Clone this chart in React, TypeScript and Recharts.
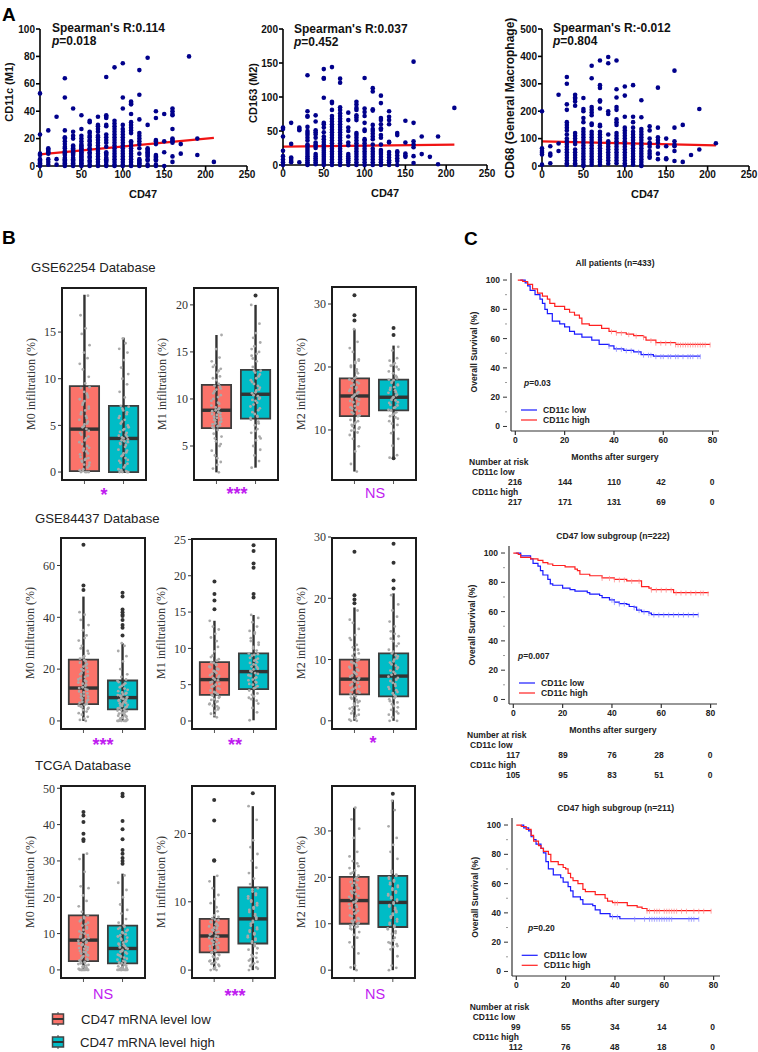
import React from 'react';
import { ComposedChart, Line, ReferenceArea, ReferenceLine, Scatter, XAxis, YAxis } from 'recharts';

// ---- Panel A: CD47 value -> marker values
const cd47Levels = [0, 10, 20, 30, 40, 50, 60, 70, 80, 90, 100, 110, 120, 130, 140, 150, 160, 170, 180, 190, 210];

const cd11cValues = [
  [53, 23, 9, 8, 5, 4, 3, 2, 1, 0],
  [26, 13, 12, 11, 10, 9, 5, 3, 1],
  [36, 5, 1],
  [64, 50, 26, 21, 20, 18, 16, 14, 13, 11, 10, 9, 8, 6, 5, 4, 3, 2, 1, 0],
  [42, 25, 22, 20, 15, 14, 13, 12, 11, 10, 9, 8, 6, 5, 4, 3, 2, 1, 0],
  [37, 27, 22, 20, 18, 16, 15, 14, 13, 12, 11, 10, 9, 8, 7, 6, 5, 4, 3, 2, 1, 0],
  [33, 32, 25, 24, 22, 21, 19, 18, 16, 15, 13, 12, 10, 9, 7, 6, 4, 3, 1, 0],
  [36, 30, 29, 27, 25, 22, 21, 19, 17, 15, 13, 11, 9, 7, 5, 3, 1, 0],
  [65, 37, 36, 35, 30, 29, 23, 21, 19, 17, 14, 10, 9, 8, 6, 5, 4, 3, 1, 0],
  [72, 33, 31, 29, 27, 25, 23, 21, 19, 17, 15, 13, 11, 9, 7, 5, 3, 1, 0],
  [75, 50, 42, 30, 27, 25, 23, 21, 19, 17, 15, 13, 11, 9, 7, 5, 3, 1, 0],
  [47, 46, 45, 38, 32, 30, 28, 26, 24, 18, 17, 15, 13, 11, 9, 7, 5, 3, 1, 0],
  [70, 52, 34, 24, 22, 20, 18, 16, 13, 9, 5, 4, 3, 2, 1, 0],
  [79, 30, 13, 12, 11, 10, 9, 8, 7, 5, 4, 1, 0],
  [40, 35, 19, 18, 16, 8, 7, 6, 5, 4, 1, 0],
  [38, 18, 10, 0],
  [42, 40, 38, 37, 27, 20, 19, 18, 17, 7, 3],
  [16, 9],
  [80],
  [20, 8],
  [3],
];

const cd163Values = [
  [55, 53, 42, 21, 13, 8, 4, 0],
  [62, 31, 11, 9, 6, 4],
  [55, 53, 51, 4],
  [132, 79, 72, 71, 56, 50, 47, 44, 40, 36, 30, 28, 25, 22, 19, 16, 13, 10, 7, 4, 1, 0],
  [73, 64, 51, 48, 45, 40, 33, 30, 28, 25, 16, 13, 10, 7, 4, 1],
  [141, 128, 127, 99, 62, 60, 55, 48, 42, 38, 34, 30, 27, 24, 21, 18, 15, 12, 9, 6, 3, 0],
  [144, 93, 91, 81, 72, 68, 64, 60, 56, 52, 48, 44, 40, 36, 32, 28, 24, 20, 16, 12, 8, 4, 0],
  [127, 121, 85, 81, 76, 72, 68, 64, 60, 56, 52, 48, 44, 40, 36, 32, 28, 24, 20, 16, 12, 8, 4, 0],
  [77, 66, 55, 50, 42, 33, 29, 16, 13, 10, 7, 4, 0],
  [93, 89, 84, 81, 73, 70, 66, 47, 44, 40, 36, 32, 28, 24, 20, 16, 12, 8, 4, 0],
  [128, 83, 78, 72, 62, 52, 50, 38, 36, 32, 28, 24, 20, 16, 12, 8, 4, 0],
  [113, 108, 82, 80, 59, 53, 50, 46, 42, 38, 30, 24, 20, 16, 12, 8, 4, 0],
  [102, 91, 69, 66, 60, 54, 52, 44, 40, 30, 22, 19, 16, 12, 8, 4, 0],
  [79, 71, 66, 60, 34, 33, 19, 15, 11, 7, 4, 0],
  [47, 44, 20, 18, 14, 10, 6, 0],
  [65, 33, 17, 14, 12],
  [152, 62, 35, 30, 26, 13, 3],
  [42, 16],
  [12],
  [42, 1],
  [84],
];

const cd68Values = [
  [200, 65, 55, 48, 42, 5],
  [72, 45, 38, 10],
  [260, 82, 55],
  [325, 300, 225, 205, 160, 150, 140, 130, 115, 100, 90, 80, 70, 60, 50, 40, 30, 20, 10, 5],
  [260, 250, 245, 235, 220, 120, 110, 100, 90, 80, 60, 50, 40, 30, 20, 10, 5],
  [248, 208, 200, 175, 160, 135, 125, 115, 105, 95, 85, 75, 65, 55, 45, 35, 25, 15, 5, 0],
  [366, 320, 215, 205, 195, 185, 155, 150, 125, 115, 105, 95, 85, 75, 65, 55, 45, 35, 25, 15, 5],
  [385, 295, 285, 240, 235, 210, 150, 145, 125, 115, 105, 95, 85, 75, 65, 55, 45, 35, 25, 15, 5],
  [398, 375, 200, 190, 115, 90, 80, 70, 60, 50, 40, 30, 20, 8],
  [385, 280, 250, 215, 205, 170, 160, 150, 120, 110, 100, 90, 80, 70, 60, 50, 40, 30, 20, 10],
  [290, 257, 180, 140, 130, 120, 110, 100, 90, 80, 70, 60, 50, 40, 30, 20, 10, 3],
  [295, 180, 160, 140, 125, 115, 105, 95, 85, 75, 65, 55, 45, 35, 25, 15, 5],
  [240, 178, 135, 125, 115, 105, 95, 85, 75, 65, 55, 45, 35, 25, 15, 5, 0],
  [145, 130, 100, 85, 80, 70, 55, 45, 35, 30],
  [286, 140, 105, 95, 85, 70, 45, 25],
  [100, 72, 28, 25],
  [348, 140, 90, 78, 72, 55, 18],
  [150, 15],
  [40],
  [208, 60],
  [83],
];

const cd11cFit = [{ x: 0, y: 8.5 }, { x: 210, y: 20.5 }];
const cd163Fit = [{ x: 0, y: 27 }, { x: 210, y: 30 }];
const cd68Fit = [{ x: 0, y: 90 }, { x: 210, y: 75 }];

// ---- Panel B: [low whisker, q1, median, q3, high whisker], outliers, jittered samples
const m0Gse62Stats = [[0, 0.1, 4.6, 9.2, 19], [0, 0, 3.6, 7.1, 14.4]];
const m1Gse62Stats = [[2.2, 6.9, 8.8, 11.5, 16.8], [2.7, 7.9, 10.5, 13.1, 20]];
const m2Gse62Stats = [[3.4, 12.2, 15.4, 18.2, 26], [5.6, 13.1, 15.2, 18, 23.4]];
const m0Gse84Stats = [[0, 6.5, 12.7, 23.7, 48], [0, 4.5, 9, 15.6, 30]];
const m1Gse84Stats = [[0.5, 3.6, 5.7, 8.1, 13.8], [0.1, 4.4, 6.8, 9.3, 14.6]];
const m2Gse84Stats = [[0, 4.3, 6.8, 10, 18.5], [0, 4, 7.3, 11, 20.8]];
const m0TcgaStats = [[0, 2.4, 8.2, 15, 32], [0, 1.8, 5.9, 12.2, 26.5]];
const m1TcgaStats = [[0, 2.6, 5, 7.5, 13.8], [0, 3.9, 7.5, 12.1, 24]];
const m2TcgaStats = [[0, 10, 15, 20.1, 35], [0, 9.3, 14.6, 20.3, 36.7]];

const m0Gse62Out = [[], []];
const m1Gse62Out = [[], [21]];
const m2Gse62Out = [[27.4, 28.2, 31.4], [5.5, 25.1, 26.2]];
const m0Gse84Out = [[50.5, 52.3, 68], [33, 36, 37, 39, 40.5, 41, 42, 43, 48, 49.5]];
const m1Gse84Out = [[15.4, 16.6, 17.5, 19.2], [17, 17.5, 21.1, 21.7, 23.4, 24.2]];
const m2Gse84Out = [[19.2, 19.8, 20.5, 27.6], [21.6, 22.9, 25.8, 28.9]];
const m0TcgaOut = [[35.5, 36, 37.5, 40.7, 42.5, 43.5], [29.2, 30, 30.8, 32, 33, 36, 38.7, 41, 47.8, 48.5]];
const m1TcgaOut = [[16, 16.1, 21.9, 24.9], [25.9]];
const m2TcgaOut = [[], [38]];

const m0Gse62Low = [0, 0, 0, 0, 0.1, 0.2, 0.5, 0.8, 1, 1.2, 1.4, 1.6, 2, 2.3, 2.6, 3, 3.4, 3.8, 4.2, 4.6, 4.9, 5.2, 5.6, 6, 6.4, 6.8, 7.2, 7.6, 8, 8.4, 9, 9.5, 10.2, 11, 11.6, 12.2, 12.8, 13.6, 14.8, 15.4, 16.8, 18.9, 0.3, 0.7, 1.1, 1.3, 1.5, 1.9, 2.2, 2.5, 2.8, 3.2, 3.6, 4, 4.4, 4.8, 5.1, 5.4, 5.8, 6.2, 6.6, 7, 7.4, 7.8, 8.2, 8.6, 9.1];
const m0Gse62High = [0, 0, 0, 0, 0.2, 0.5, 0.9, 1.2, 1.5, 1.8, 2.1, 2.4, 2.7, 3, 3.2, 3.4, 3.6, 3.8, 4, 4.3, 4.6, 5, 5.4, 5.8, 6.2, 6.6, 7, 7.1, 8, 8.6, 9.4, 10, 10.5, 11.2, 12, 12.8, 13.2, 13.8, 14.3, 0.1, 0.3, 0.7, 1, 1.3, 1.7, 2, 2.3, 2.9, 3.1, 3.3, 3.5, 3.7, 3.9, 4.2, 4.5, 4.8, 5.2, 5.6, 6, 6.4, 6.8];
const m1Gse62Low = [2.2, 2.6, 3, 3.3, 4, 4.5, 5, 5.5, 6, 6.3, 6.7, 7, 7.2, 7.4, 7.6, 7.8, 8, 8.2, 8.4, 8.6, 8.8, 9, 9.3, 9.6, 10, 10.4, 10.8, 11, 11.3, 11.6, 12.2, 12.8, 13.2, 13.6, 14, 14.4, 15.3, 16.8, 6.9, 7.1, 7.3, 7.5, 7.7, 7.9, 8.1, 8.3, 8.5, 8.7, 8.9, 9.1, 9.5, 9.8, 10.2, 10.6, 11.1, 11.4, 12, 12.4, 13, 13.4, 3.7, 5.2, 5.8];
const m1Gse62High = [2.7, 3.4, 4, 4.6, 5, 5.6, 6, 6.4, 6.8, 7.2, 7.6, 8, 8.2, 8.6, 9, 9.4, 9.8, 10, 10.3, 10.6, 10.9, 11.2, 11.6, 12, 12.4, 12.8, 13, 13.4, 14, 14.6, 15, 15.6, 16, 16.5, 17, 18, 20, 8.1, 8.4, 8.8, 9.2, 9.6, 9.9, 10.1, 10.4, 10.7, 11, 11.4, 11.8, 12.2, 12.6, 13, 7.8, 7.4, 6.6, 5.8, 14.3, 14.8, 15.3];
const m2Gse62Low = [3.4, 4.6, 6.6, 7.4, 8.6, 9.2, 9.6, 10, 10.4, 10.8, 11.2, 11.6, 12.2, 12.6, 13, 13.4, 13.8, 14.2, 14.6, 15, 15.4, 15.8, 16.2, 16.6, 17, 17.4, 17.8, 18.2, 19, 19.6, 20.2, 20.8, 21.2, 22.4, 23, 24, 26, 12.3, 12.8, 13.2, 13.6, 14, 14.4, 14.8, 15.2, 15.6, 16, 16.4, 16.8, 17.2, 17.6, 18, 18.4, 9.9, 10.2, 10.6, 11, 11.4, 19.3, 20, 20.6, 21];
const m2Gse62High = [5.6, 6, 7.5, 8.6, 9.5, 10, 10.8, 11.4, 12, 12.4, 12.8, 13.2, 13.6, 14, 14.4, 14.8, 15.2, 15.6, 16, 16.4, 16.8, 17.2, 17.6, 18, 18.4, 19, 19.6, 20.2, 20.6, 21, 21.4, 22.6, 23.2, 13.1, 13.5, 13.9, 14.3, 14.7, 15.1, 15.5, 15.9, 16.3, 16.7, 17.1, 17.5, 17.9, 18.2, 18.6, 12.2, 12.6, 11.8, 11, 19.3, 20, 20.4];
const m0Gse84Low = [0, 0.4, 1, 1.6, 2.4, 3, 3.6, 4.2, 5, 5.6, 6.2, 7, 7.8, 8.6, 9.4, 10.2, 11, 12, 12.7, 13.6, 14.4, 15.2, 16, 17, 18, 19, 20, 21, 22, 23, 24, 25, 27, 29, 31, 33, 35, 37, 39, 41, 42, 6.5, 7.4, 8.2, 9, 9.8, 10.6, 11.4, 12.4, 13, 14, 14.8, 15.6, 16.5, 17.5, 18.5, 19.5, 20.5, 21.5, 22.5, 23.5, 4.6, 5.3, 5.9, 6.8, 24.5, 26, 28, 32];
const m0Gse84High = [0, 0, 0, 0.4, 0.8, 1.2, 1.6, 2, 2.5, 3, 3.5, 4, 4.5, 5, 5.5, 6, 6.5, 7, 7.5, 8, 8.5, 9, 9.5, 10, 10.5, 11, 12, 13, 14, 15, 16, 17, 18, 20, 23, 25, 27, 29, 30, 0, 0, 0, 0.2, 0.6, 1, 1.4, 1.8, 2.2, 2.8, 3.2, 3.8, 4.2, 4.8, 5.2, 5.8, 6.2, 6.8, 7.2, 7.8, 8.2, 8.8, 9.2, 9.8, 10.2, 10.8, 11.5, 12.5, 13.5, 14.5, 15.5];
const m1Gse84Low = [0.5, 1, 1.4, 1.8, 2.1, 2.4, 2.7, 3, 3.3, 3.6, 3.9, 4.2, 4.5, 4.8, 5.1, 5.4, 5.7, 6, 6.3, 6.6, 6.9, 7.2, 7.5, 7.8, 8.1, 8.5, 9, 9.6, 10.2, 11, 11.5, 12, 12.6, 13, 13.8, 3.7, 4, 4.4, 4.7, 5, 5.3, 5.6, 5.9, 6.2, 6.5, 6.8, 7.1, 7.4, 7.7, 8, 2, 2.3, 2.6, 2.9, 3.2, 3.5, 0.8, 1.6, 8.3, 8.8];
const m1Gse84High = [0.1, 1.2, 1.8, 2.4, 3, 3.4, 3.8, 4.2, 4.6, 5, 5.3, 5.6, 5.9, 6.2, 6.5, 6.8, 7.1, 7.4, 7.7, 8, 8.3, 8.6, 9, 9.3, 9.7, 10.2, 10.8, 11.4, 12, 12.4, 13, 13.6, 14.2, 14.6, 4.5, 4.8, 5.1, 5.4, 5.7, 6, 6.3, 6.6, 6.9, 7.2, 7.5, 7.8, 8.1, 8.4, 8.7, 9.1, 9.2, 3.6, 3.2, 2.8, 10, 10.5, 11, 12.2];
const m2Gse84Low = [0, 0, 0.4, 1, 1.6, 2, 2.4, 2.8, 3.2, 3.6, 4, 4.4, 4.8, 5.2, 5.6, 6, 6.4, 6.8, 7.2, 7.6, 8, 8.4, 8.8, 9.2, 9.6, 10, 10.6, 11.2, 11.6, 12.4, 13.2, 14, 15, 16, 16.5, 18, 4.2, 4.6, 5, 5.4, 5.8, 6.2, 6.6, 7, 7.4, 7.8, 8.2, 8.6, 9, 9.4, 9.8, 0.2, 0.8, 1.2, 1.8, 2.2, 2.6, 3, 3.4, 3.8, 10.3, 11, 12, 13.5];
const m2Gse84High = [0, 0, 0.6, 1.2, 1.8, 2.4, 3, 3.5, 4, 4.5, 5, 5.5, 6, 6.5, 7, 7.5, 8, 8.5, 9, 9.5, 10, 10.5, 11, 11.6, 12.2, 13, 13.8, 14.6, 15.4, 16.2, 17, 18, 19, 20.5, 4.2, 4.7, 5.2, 5.7, 6.2, 6.7, 7.2, 7.7, 8.2, 8.7, 9.2, 9.7, 10.2, 10.7, 3.2, 3.7, 2.2, 2.7, 1, 1.5, 11.3, 12.6, 13.4, 14.2];
const m0TcgaLow = [0, 0, 0, 0, 0, 0.3, 0.6, 1, 1.4, 1.8, 2.2, 2.6, 3, 3.5, 4, 4.5, 5, 5.5, 6, 6.5, 7, 7.5, 8, 8.5, 9, 9.6, 10.2, 11, 11.8, 12.6, 13.4, 14.2, 15, 16, 17.5, 19, 20.5, 22.5, 23, 27, 30.5, 32, 0, 0, 0, 0, 0.1, 0.2, 0.4, 0.8, 1.2, 1.6, 2, 2.4, 2.8, 3.2, 3.8, 4.2, 4.8, 5.2, 5.8, 6.2, 6.8, 7.2, 7.8, 8.2, 8.8, 9.4, 10, 10.6, 11.4, 12.2, 13, 13.8, 14.6];
const m0TcgaHigh = [0, 0, 0, 0, 0, 0.3, 0.6, 1, 1.4, 1.8, 2.2, 2.8, 3.4, 4, 4.5, 5, 5.5, 6, 6.5, 7, 7.5, 8, 8.6, 9.2, 9.8, 10.4, 11, 11.6, 12.2, 13, 14, 15.5, 16.5, 18, 20, 22, 24, 26, 0, 0, 0, 0, 0.1, 0.2, 0.4, 0.8, 1.2, 1.6, 2, 2.5, 3.1, 3.7, 4.2, 4.8, 5.2, 5.8, 6.2, 6.8, 7.2, 7.8, 8.3, 8.9, 9.5, 10.1, 10.7, 11.3, 11.9];
const m1TcgaLow = [0, 0, 0.4, 0.8, 1, 1.3, 1.6, 1.9, 2.2, 2.5, 2.8, 3.1, 3.4, 3.7, 4, 4.3, 4.6, 4.9, 5.2, 5.5, 5.8, 6.1, 6.4, 6.7, 7, 7.3, 7.6, 8, 8.6, 9.2, 9.8, 10.4, 11, 12, 13, 13.8, 0.2, 0.6, 0.9, 1.1, 1.4, 1.7, 2, 2.3, 2.6, 2.9, 3.2, 3.5, 3.8, 4.1, 4.4, 4.7, 5, 5.3, 5.6, 5.9, 6.2, 6.5, 6.8, 7.1, 7.4, 7.8];
const m1TcgaHigh = [0, 0.4, 0.8, 1.2, 1.6, 2, 2.5, 3, 3.5, 4, 4.4, 4.8, 5.2, 5.6, 6, 6.5, 7, 7.5, 8, 8.5, 9, 9.5, 10, 10.5, 11, 11.5, 12, 12.6, 13.4, 14.2, 15, 16, 17, 18, 19, 22, 24, 3.8, 4.2, 4.6, 5, 5.4, 5.8, 6.2, 6.8, 7.2, 7.7, 8.2, 8.8, 9.2, 9.8, 10.2, 10.8, 11.2, 11.8, 0.2, 0.6, 1, 1.4, 1.8, 2.2, 3.2];
const m2TcgaLow = [0, 0.6, 1, 3.6, 5, 6, 7, 7.6, 8.2, 8.8, 9.2, 9.6, 10, 10.4, 11, 11.6, 12.2, 12.8, 13.4, 14, 14.6, 15.2, 15.8, 16.4, 17, 17.6, 18.2, 18.8, 19.4, 20, 20.8, 21.5, 22.4, 23.5, 24.5, 25.5, 28.5, 30.5, 32.5, 35, 9, 9.4, 9.8, 10.2, 10.6, 10.8, 11.2, 11.8, 12.4, 13, 13.6, 14.2, 14.8, 15.4, 16, 16.6, 17.2, 17.8, 18.4, 19, 19.6, 20.4, 21, 22, 23];
const m2TcgaHigh = [0, 0.5, 1, 3, 4.5, 5, 5.6, 6, 7, 7.8, 8.4, 9, 9.6, 10.2, 11, 11.6, 12.2, 12.8, 13.4, 14, 14.6, 15.2, 15.8, 16.4, 17, 17.6, 18.2, 18.8, 19.4, 20, 20.6, 21.4, 24, 25.5, 27, 28.5, 31, 34.5, 36.5, 8, 8.8, 9.3, 9.9, 10.5, 11.3, 11.9, 12.5, 13.1, 13.7, 14.3, 14.9, 15.5, 16.1, 16.7, 17.3, 17.9, 18.5, 19.1, 19.7, 20.3, 21, 5.2, 5.8, 6.4];

const jitterOffsets = [0.06, -0.09, 0.02, 0.11, -0.04, -0.12, 0.08, -0.01, 0.13, -0.07, 0.03, -0.1, 0.09, -0.03, 0.12, -0.06, 0.01, 0.1, -0.11, 0.05, -0.02, 0.07, -0.13, 0.04, -0.08, 0.11, -0.05, 0, 0.09];

// ---- Panel C: survival curves as [month, survival %]
const allLow = [[2, 100], [4, 98], [5, 96], [6, 93], [8, 90], [10, 87], [11, 84], [12, 80], [13, 77], [15, 72], [18, 70], [20, 68], [22, 65], [24, 63], [27, 61], [31, 59], [34, 56], [38, 55], [40, 53], [44, 52], [48, 51], [51, 49], [56, 48], [75, 48]];
const allHigh = [[1, 100], [3, 99], [5, 97], [7, 94], [9, 91], [11, 89], [13, 87], [14, 84], [16, 82], [20, 80], [22, 78], [24, 76], [26, 74], [27, 70], [30, 69], [35, 67], [38, 65], [41, 64], [45, 63], [48, 62], [52, 61], [53, 59], [57, 57.2], [65, 56], [79, 56]];
const cd47LowLow = [[1, 100], [3, 98], [7, 96], [8, 93], [10, 91], [11, 88], [12, 85], [14, 82], [15, 79], [16, 78], [20, 76], [23, 75], [25, 74], [30, 73], [31, 72], [35, 71], [36, 69.5], [39, 68], [41, 66.5], [43, 65.5], [46, 65], [47, 63.5], [49, 63], [50, 61], [52, 60], [55, 59], [56, 58], [75, 58]];
const cd47LowHigh = [[0, 100], [2, 99], [3, 97], [7, 96], [10, 95], [12, 93.5], [14, 92.5], [16, 91.5], [21, 90.5], [25, 89], [26, 88], [27, 85.5], [31, 84.5], [36, 83], [41, 82], [46, 81], [52, 77], [55, 76], [56, 75], [65, 73], [79, 72.5]];
const cd47HighLow = [[2, 100], [3, 98], [5, 96], [6, 92], [7, 90], [8, 87], [10, 84], [11, 81], [12, 75], [13, 70], [15, 66], [18, 64], [19, 61], [21, 58], [22, 55], [23, 51], [26, 49], [27, 46], [31, 45], [32, 42], [34, 39.5], [38, 37.5], [42, 36], [74, 36]];
const cd47HighHigh = [[0, 100], [2, 99], [4, 97], [6, 93], [7, 89], [9, 86], [10, 84], [11, 82], [13, 80], [14, 75], [17, 73], [19, 71], [20, 70], [21, 67], [22, 64], [23, 62], [25, 60], [27, 56], [28, 54.5], [32, 52.5], [36, 50], [37, 48], [39, 47], [45, 45], [49, 44], [51, 43], [53, 41.5], [79, 41.5]];

// censored patients, months only: the survival value comes from the curve they sit on
const allLowCensor = [38, 41, 43, 45, 47, 50, 52, 54, 55, 57, 59, 60, 62, 63, 65, 66, 68, 70, 71, 72, 74, 75];
const allHighCensor = [39, 41, 43, 46, 49, 52, 55, 57, 59, 61, 63, 65, 66, 67, 68, 69, 70, 71, 72, 73, 74, 75, 76, 77, 79];
const cd47LowLowCensor = [40, 41, 43, 45, 49, 51, 53, 55, 57, 59, 61, 63, 65, 67, 69, 71, 73, 75];
const cd47LowHighCensor = [36, 39, 41, 43, 45, 48, 51, 56, 58, 60, 62, 64, 66, 68, 70, 72, 74, 76, 77, 79];
const cd47HighLowCensor = [39, 41, 48, 52, 54, 55, 56, 57, 58, 59, 60, 61, 62, 63, 70, 71, 72, 74];
const cd47HighHighCensor = [40, 41, 53, 54, 56, 57, 58, 60, 61, 62, 63, 64, 65, 67, 69, 72, 74, 76, 79];

const monthTicks = [0, 20, 40, 60, 80];
const survivalTicks = [0, 10, 20, 30, 40, 50, 60, 70, 80, 90, 100];
const allAtRisk = [[216, 144, 110, 42, 0], [217, 171, 131, 69, 0]];
const cd47LowAtRisk = [[117, 89, 76, 28, 0], [105, 95, 83, 51, 0]];
const cd47HighAtRisk = [[99, 55, 34, 14, 0], [112, 76, 48, 18, 0]];

const LOW_FILL = '#fb736a';
const HIGH_FILL = '#00bcc6';
const PURPLE = '#bf1cf0';
const SANS = '"Liberation Sans", Arial, sans-serif';
const SERIF = '"Liberation Serif", "Times New Roman", serif';

const toPoints = (pairs: number[][]) => pairs.map(([x, y]) => ({ x, y }));

const curveValue = (curve: number[][], month: number) => {
  let value = curve[0][1];
  for (const [m, s] of curve) if (m <= month) value = s;
  return value;
};

const T = ({ x, y, size = 10, weight = 'normal', family = SANS, anchor = 'start', fill = '#111', rotate = false, children }: any) => (
  <text
    x={x}
    y={y}
    fontSize={size}
    fontWeight={weight}
    fontFamily={family}
    textAnchor={anchor}
    dominantBaseline="central"
    fill={fill}
    transform={rotate ? `rotate(-90 ${x} ${y})` : undefined}
  >
    {children}
  </text>
);

// ---- Panel A
const CorrPlot = ({ left, right, top, bottom, yMax, yTicks, values, fit }: any) => {
  const yW = 32;
  const pad = 6;
  const rightPad = 9;
  const points = cd47Levels.flatMap((x, i) => values[i].map((y: number) => ({ x, y })));
  return (
    <div style={{ position: 'absolute', left: left - yW, top: top - pad }}>
      <ComposedChart width={right - left + yW + rightPad} height={bottom - top + pad + 20} margin={{ top: pad, right: rightPad, left: 0, bottom: 0 }}>
        <XAxis
          dataKey="x"
          type="number"
          domain={[0, 250]}
          ticks={[0, 50, 100, 150, 200, 250]}
          interval={0}
          height={20}
          tickSize={4}
          tickMargin={1}
          stroke="#000"
          strokeWidth={1.6}
          tick={{ fontSize: 10, fontWeight: 'bold', fontFamily: SANS, fill: '#111' }}
        />
        <YAxis
          dataKey="y"
          type="number"
          domain={[0, yMax]}
          ticks={yTicks}
          interval={0}
          width={yW}
          tickSize={4}
          tickMargin={1}
          stroke="#000"
          strokeWidth={1.6}
          tick={{ fontSize: 10, fontWeight: 'bold', fontFamily: SANS, fill: '#111' }}
        />
        <Scatter
          data={points}
          dataKey="y"
          isAnimationActive={false}
          shape={(p: any) => <circle cx={p.cx} cy={p.cy} r={2.3} fill="#00008b" />}
        />
        <Line data={fit} dataKey="y" dot={false} stroke="#f01414" strokeWidth={2.2} isAnimationActive={false} />
      </ComposedChart>
    </div>
  );
};

// ---- Panel B
const BoxPanel = ({ left, right, top, bottom, domain, ticks, stats, outliers, samples }: any) => {
  const yW = 30;
  const pad = 8;
  const fills = [LOW_FILL, HIGH_FILL];
  const jitter = samples.map((list: number[], g: number) =>
    list.map((y, i) => ({ x: g + 1 + jitterOffsets[(i + g * 11) % jitterOffsets.length], y }))
  );
  const outs = outliers.map((list: number[], g: number) => list.map((y) => ({ x: g + 1, y })));
  return (
    <>
      <div style={{ position: 'absolute', left: left - yW, top: top - pad }}>
        <ComposedChart width={right - left + yW} height={bottom - top + pad + 6} margin={{ top: pad, right: 0, left: 0, bottom: 0 }}>
          <XAxis dataKey="x" type="number" domain={[0.4, 2.6]} ticks={[1, 2]} interval={0} height={6} tickSize={3} axisLine={false} stroke="#555" tickFormatter={() => ''} />
          <YAxis
            dataKey="y"
            type="number"
            domain={domain}
            ticks={ticks}
            interval={0}
            width={yW}
            axisLine={false}
            tickSize={3}
            tickMargin={2}
            stroke="#333"
            tick={{ fontSize: 12, fontFamily: SERIF, fill: '#333' }}
          />
          {stats.map((s: number[], g: number) => (
            <ReferenceLine key={`w${g}`} segment={[{ x: g + 1, y: s[0] }, { x: g + 1, y: s[4] }]} stroke="#333" strokeWidth={2.4} ifOverflow="visible" />
          ))}
          {stats.map((s: number[], g: number) => (
            <ReferenceArea key={`b${g}`} x1={g + 0.625} x2={g + 1.375} y1={s[1]} y2={s[3]} fill={fills[g]} fillOpacity={1} stroke="#3d3d3d" strokeWidth={1.8} ifOverflow="visible" />
          ))}
          {stats.map((s: number[], g: number) => (
            <ReferenceLine key={`m${g}`} segment={[{ x: g + 0.625, y: s[2] }, { x: g + 1.375, y: s[2] }]} stroke="#333" strokeWidth={3.4} ifOverflow="visible" />
          ))}
          {outs.map((d: any[], g: number) => (
            <Scatter key={`o${g}`} data={d} dataKey="y" isAnimationActive={false} shape={(p: any) => <circle cx={p.cx} cy={p.cy} r={2} fill="#333" />} />
          ))}
          {jitter.map((d: any[], g: number) => (
            <Scatter key={`j${g}`} data={d} dataKey="y" isAnimationActive={false} shape={(p: any) => <circle cx={p.cx} cy={p.cy} r={1.4} fill="#aaaaaa" />} />
          ))}
        </ComposedChart>
      </div>
      <div style={{ position: 'absolute', left, top, width: right - left, height: bottom - top, boxSizing: 'border-box', border: '2px solid #1c1c1c', pointerEvents: 'none' }} />
    </>
  );
};

// ---- Panel C
const SurvivalTick = ({ x, y, payload }: any) => {
  const major = payload.value % 20 === 0;
  return (
    <g>
      <line x1={x + 4} x2={x + (major ? 0 : 2)} y1={y} y2={y} stroke={major ? '#333' : '#999'} strokeWidth={1} />
      {major && (
        <text x={x - 3} y={y} textAnchor="end" dominantBaseline="central" fontSize={8.5} fontWeight="bold" fontFamily={SANS} fill="#222">
          {payload.value}
        </text>
      )}
    </g>
  );
};

const KmPlot = ({ dx, dy, low, high, lowCensor, highCensor }: any) => {
  const yW = 30;
  const pad = 4;
  const left = 511 + dx;
  const top = 273 + dy;
  const w = 208;
  const h = 158;
  // x: 0..80 runs 515.3..712.3, y: 0..100 runs 426.3..280
  const tick = (c: string) => (p: any) => <line x1={p.cx} x2={p.cx} y1={p.cy - 2} y2={p.cy + 3} stroke={c} strokeWidth={0.8} />;
  const lowMarks = lowCensor.map((m: number) => ({ x: m, y: curveValue(low, m) }));
  const highMarks = highCensor.map((m: number) => ({ x: m, y: curveValue(high, m) }));
  return (
    <div style={{ position: 'absolute', left: left - yW, top: top - pad }}>
      <ComposedChart width={w + yW + pad} height={h + pad + 20} margin={{ top: pad, right: pad, left: 0, bottom: 0 }}>
        <XAxis
          dataKey="x"
          type="number"
          domain={[-1.75, 82.6]}
          ticks={monthTicks}
          interval={0}
          height={20}
          tickSize={4}
          tickMargin={2}
          stroke="#333"
          strokeWidth={1.2}
          tick={{ fontSize: 8.5, fontWeight: 'bold', fontFamily: SANS, fill: '#222' }}
        />
        <YAxis
          dataKey="y"
          type="number"
          domain={[-3.1, 104.8]}
          ticks={survivalTicks}
          interval={0}
          width={yW}
          tickLine={false}
          stroke="#333"
          strokeWidth={1.2}
          tick={<SurvivalTick />}
        />
        <Line data={toPoints(low)} dataKey="y" type="stepAfter" dot={false} stroke="#1a1aff" strokeWidth={1.2} isAnimationActive={false} />
        <Line data={toPoints(high)} dataKey="y" type="stepAfter" dot={false} stroke="#ff2020" strokeWidth={1.2} isAnimationActive={false} />
        <Scatter data={lowMarks} dataKey="y" isAnimationActive={false} shape={tick('#8f8fff')} />
        <Scatter data={highMarks} dataKey="y" isAnimationActive={false} shape={tick('#ff9090')} />
      </ComposedChart>
    </div>
  );
};

const KmText = ({ dx, dy, title, p, px, atRisk }: any) => {
  const columns = [515, 565, 614, 661, 712];
  return (
    <g>
      <T x={615 + dx} y={263 + dy} size={8.6} weight="bold" anchor="middle" fill="#222">{title}</T>
      <T x={474 + dx} y={352 + dy} size={8.6} weight="bold" anchor="middle" fill="#222" rotate>Overall Survival (%)</T>
      <text x={px} y={383 + dy} fontSize={8.5} fontWeight="bold" fontFamily={SANS} dominantBaseline="central" fill="#222">
        <tspan fontStyle="italic">p</tspan>={p}
      </text>
      <line x1={521 + dx} x2={537 + dx} y1={410 + dy} y2={410 + dy} stroke="#1a1aff" strokeWidth={1.2} />
      <line x1={521 + dx} x2={537 + dx} y1={420 + dy} y2={420 + dy} stroke="#ff2020" strokeWidth={1.2} />
      <T x={543 + dx} y={410 + dy} size={8.6} weight="bold" fill="#222">CD11c low</T>
      <T x={543 + dx} y={420 + dy} size={8.6} weight="bold" fill="#222">CD11c high</T>
      <T x={615 + dx} y={457 + dy} size={8.8} weight="bold" anchor="middle" fill="#222">Months after surgery</T>
      <T x={469 + dx} y={462 + dy} size={8.5} weight="bold" fill="#222">Number at risk</T>
      <T x={472 + dx} y={472 + dy} size={8.5} weight="bold" fill="#222">CD11c low</T>
      <T x={472 + dx} y={492 + dy} size={8.5} weight="bold" fill="#222">CD11c high</T>
      {atRisk.map((row: number[], r: number) =>
        row.map((n, i) => (
          <T key={`${r}-${i}`} x={columns[i] + dx} y={(r === 0 ? 482 : 502) + dy} size={8.5} weight="bold" anchor="middle" fill="#222">{n}</T>
        ))
      )}
    </g>
  );
};

const Sig = ({ x, y, mark }: any) =>
  mark === 'NS' ? (
    <T x={x} y={y} size={14.5} anchor="middle" fill={PURPLE}>NS</T>
  ) : (
    <T x={x} y={y + 3} size={18} weight="bold" anchor="middle" fill={PURPLE}>{mark}</T>
  );

const Key = ({ y, fill }: any) => (
  <g>
    <line x1={58} x2={58} y1={y - 7} y2={y + 7} stroke="#444" strokeWidth={1} />
    <rect x={52.5} y={y - 5} width={11} height={10} fill={fill} stroke="#444" strokeWidth={1.5} />
    <line x1={52.5} x2={63.5} y1={y} y2={y} stroke="#333" strokeWidth={2} />
  </g>
);

const boxX = [[61, 147], [193, 279], [331, 417]];
const boxY = [[287, 481], [537, 730], [785, 979]];

export default function App() {
  return (
    <div style={{ position: 'absolute', left: 0, top: 0, width: 758, height: 1052, background: '#fff', overflow: 'hidden' }}>
      <CorrPlot left={40} right={247} top={29} bottom={166} yMax={100} yTicks={[0, 20, 40, 60, 80, 100]} values={cd11cValues} fit={cd11cFit} />
      <CorrPlot left={283} right={487} top={29} bottom={165} yMax={200} yTicks={[0, 50, 100, 150, 200]} values={cd163Values} fit={cd163Fit} />
      <CorrPlot left={542} right={749} top={29} bottom={166} yMax={500} yTicks={[0, 100, 200, 300, 400, 500]} values={cd68Values} fit={cd68Fit} />

      <BoxPanel left={boxX[0][0]} right={boxX[0][1]} top={boxY[0][0]} bottom={boxY[0][1]} domain={[-0.96, 19.83]} ticks={[0, 5, 10, 15]} stats={m0Gse62Stats} outliers={m0Gse62Out} samples={[m0Gse62Low, m0Gse62High]} />
      <BoxPanel left={boxX[1][0]} right={boxX[1][1]} top={boxY[0][0]} bottom={boxY[0][1]} domain={[1.28, 21.9]} ticks={[5, 10, 15, 20]} stats={m1Gse62Stats} outliers={m1Gse62Out} samples={[m1Gse62Low, m1Gse62High]} />
      <BoxPanel left={boxX[2][0]} right={boxX[2][1]} top={286} bottom={boxY[0][1]} domain={[1.9, 32.86]} ticks={[10, 20, 30]} stats={m2Gse62Stats} outliers={m2Gse62Out} samples={[m2Gse62Low, m2Gse62High]} />

      <BoxPanel left={boxX[0][0] - 1} right={boxX[0][1] - 1} top={boxY[1][0]} bottom={boxY[1][1]} domain={[-3.5, 71]} ticks={[0, 20, 40, 60]} stats={m0Gse84Stats} outliers={m0Gse84Out} samples={[m0Gse84Low, m0Gse84High]} />
      <BoxPanel left={191} right={277} top={538} bottom={boxY[1][1]} domain={[-1.24, 25.2]} ticks={[0, 5, 10, 15, 20, 25]} stats={m1Gse84Stats} outliers={m1Gse84Out} samples={[m1Gse84Low, m1Gse84High]} />
      <BoxPanel left={boxX[2][0]} right={boxX[2][1]} top={boxY[1][0]} bottom={boxY[1][1]} domain={[-1.5, 30]} ticks={[0, 10, 20, 30]} stats={m2Gse84Stats} outliers={m2Gse84Out} samples={[m2Gse84Low, m2Gse84High]} />

      <BoxPanel left={60} right={146} top={boxY[2][0]} bottom={boxY[2][1]} domain={[-2.5, 50.9]} ticks={[0, 10, 20, 30, 40, 50]} stats={m0TcgaStats} outliers={m0TcgaOut} samples={[m0TcgaLow, m0TcgaHigh]} />
      <BoxPanel left={191} right={276} top={boxY[2][0]} bottom={boxY[2][1]} domain={[-1.3, 27.1]} ticks={[0, 10, 20]} stats={m1TcgaStats} outliers={m1TcgaOut} samples={[m1TcgaLow, m1TcgaHigh]} />
      <BoxPanel left={331} right={416} top={boxY[2][0]} bottom={boxY[2][1]} domain={[-1.9, 39.9]} ticks={[0, 10, 20, 30]} stats={m2TcgaStats} outliers={m2TcgaOut} samples={[m2TcgaLow, m2TcgaHigh]} />

      <KmPlot dx={0} dy={0} low={allLow} high={allHigh} lowCensor={allLowCensor} highCensor={allHighCensor} />
      <KmPlot dx={-2} dy={273} low={cd47LowLow} high={cd47LowHigh} lowCensor={cd47LowLowCensor} highCensor={cd47LowHighCensor} />
      <KmPlot dx={0.7} dy={545.3} low={cd47HighLow} high={cd47HighHigh} lowCensor={cd47HighLowCensor} highCensor={cd47HighHighCensor} />

      <svg width={758} height={1052} style={{ position: 'absolute', left: 0, top: 0, pointerEvents: 'none' }}>
        <T x={2} y={14} size={19} weight="bold" fill="#000">A</T>
        <T x={2} y={237} size={19} weight="bold" fill="#000">B</T>
        <T x={464} y={238} size={19} weight="bold" fill="#000">C</T>

        <T x={52} y={28} size={12} weight="bold">Spearman's R:0.114</T>
        <text x={52} y={41} fontSize={12} fontWeight="bold" fontFamily={SANS} dominantBaseline="central" fill="#111"><tspan fontStyle="italic">p</tspan>=0.018</text>
        <T x={294} y={29} size={12} weight="bold">Spearman's R:0.037</T>
        <text x={294} y={42} fontSize={12} fontWeight="bold" fontFamily={SANS} dominantBaseline="central" fill="#111"><tspan fontStyle="italic">p</tspan>=0.452</text>
        <T x={553} y={28} size={12} weight="bold">Spearman's R:-0.012</T>
        <text x={553} y={41} fontSize={12} fontWeight="bold" fontFamily={SANS} dominantBaseline="central" fill="#111"><tspan fontStyle="italic">p</tspan>=0.804</text>
        <T x={143} y={194} size={11} weight="bold" anchor="middle">CD47</T>
        <T x={385} y={193} size={11} weight="bold" anchor="middle">CD47</T>
        <T x={645} y={194} size={11} weight="bold" anchor="middle">CD47</T>
        <T x={9} y={92} size={11} weight="bold" anchor="middle" rotate>CD11c (M1)</T>
        <T x={253} y={93} size={11} weight="bold" anchor="middle" rotate>CD163 (M2)</T>
        <T x={510} y={98} size={12} weight="bold" anchor="middle" rotate>CD68 (General Macrophage)</T>

        <T x={31} y={267} size={13.2} fill="#222">GSE62254 Database</T>
        <T x={35} y={518} size={13.2} fill="#222">GSE84437 Database</T>
        <T x={35} y={765} size={13.2} fill="#222">TCGA Database</T>

        <T x={31} y={384} size={12} family={SERIF} anchor="middle" fill="#333" rotate>M0 infiltration (%)</T>
        <T x={162} y={384} size={12} family={SERIF} anchor="middle" fill="#333" rotate>M1 infiltration (%)</T>
        <T x={301} y={384} size={12} family={SERIF} anchor="middle" fill="#333" rotate>M2 infiltration (%)</T>
        <T x={30} y={633} size={12} family={SERIF} anchor="middle" fill="#333" rotate>M0 infiltration (%)</T>
        <T x={161} y={633} size={12} family={SERIF} anchor="middle" fill="#333" rotate>M1 infiltration (%)</T>
        <T x={301} y={633} size={12} family={SERIF} anchor="middle" fill="#333" rotate>M2 infiltration (%)</T>
        <T x={30} y={882} size={12} family={SERIF} anchor="middle" fill="#333" rotate>M0 infiltration (%)</T>
        <T x={161} y={882} size={12} family={SERIF} anchor="middle" fill="#333" rotate>M1 infiltration (%)</T>
        <T x={301} y={882} size={12} family={SERIF} anchor="middle" fill="#333" rotate>M2 infiltration (%)</T>

        <Sig x={104} y={492} mark="*" />
        <Sig x={237} y={491} mark="***" />
        <Sig x={375} y={493} mark="NS" />
        <Sig x={103} y={742} mark="***" />
        <Sig x={235} y={742} mark="**" />
        <Sig x={373} y={740} mark="*" />
        <Sig x={103} y={994} mark="NS" />
        <Sig x={235} y={993} mark="***" />
        <Sig x={375} y={994} mark="NS" />

        <Key y={1019} fill={LOW_FILL} />
        <Key y={1042} fill={HIGH_FILL} />
        <T x={81} y={1019} size={13.2} fill="#222">CD47 mRNA level low</T>
        <T x={80} y={1042} size={13.2} fill="#222">CD47 mRNA level high</T>

        <KmText dx={0} dy={0} title="All patients (n=433)" p="0.03" px={524} atRisk={allAtRisk} />
        <KmText dx={-2} dy={273} title="CD47 low subgroup (n=222)" p="0.007" px={518} atRisk={cd47LowAtRisk} />
        <KmText dx={0.7} dy={545.3} title="CD47 high subgroup (n=211)" p="0.20" px={528} atRisk={cd47HighAtRisk} />
      </svg>
    </div>
  );
}
